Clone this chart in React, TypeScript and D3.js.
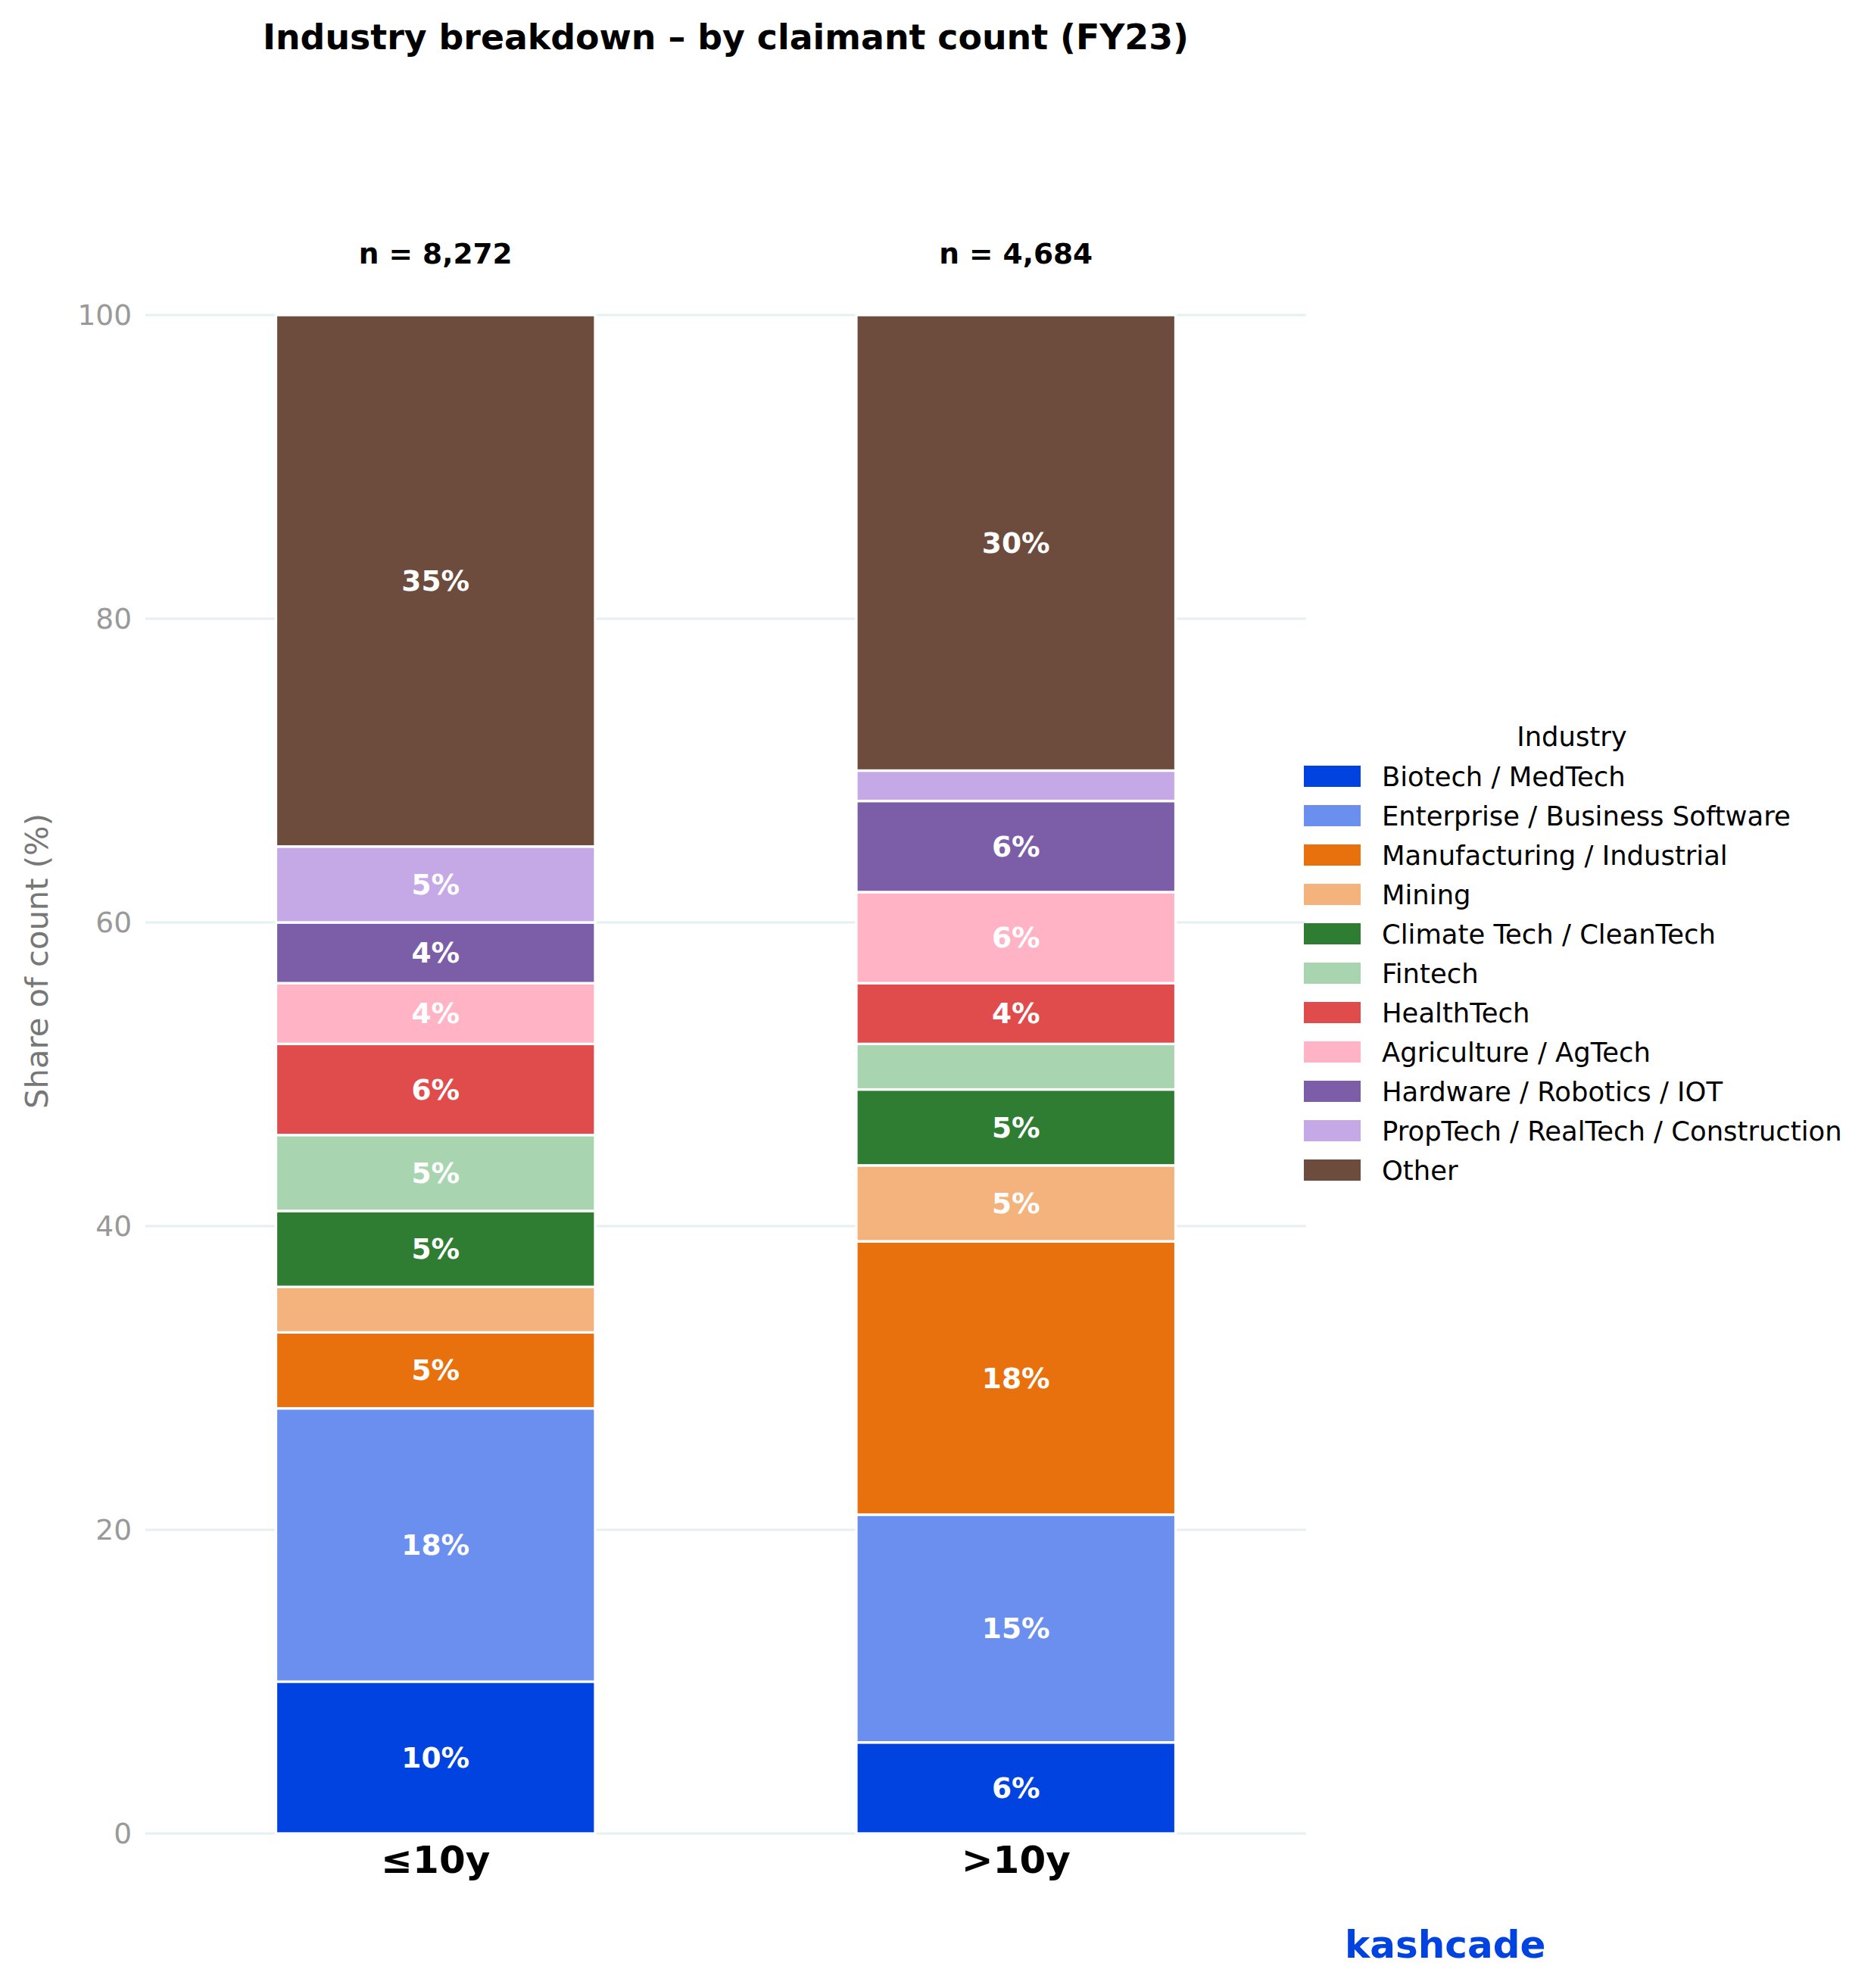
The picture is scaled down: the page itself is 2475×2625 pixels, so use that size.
import React from "react";
import * as d3 from "d3";

const groups = ["≤10y", ">10y"];
const nCounts = [8272, 4684];
const industries = [
  "Biotech / MedTech",
  "Enterprise / Business Software",
  "Manufacturing / Industrial",
  "Mining",
  "Climate Tech / CleanTech",
  "Fintech",
  "HealthTech",
  "Agriculture / AgTech",
  "Hardware / Robotics / IOT",
  "PropTech / RealTech / Construction",
  "Other",
];
const shareLE10 = [10, 18, 5, 3, 5, 5, 6, 4, 4, 5, 35];
const shareGT10 = [6, 15, 18, 5, 5, 3, 4, 6, 6, 2, 30];
const colors = [
  "#0043E0",
  "#6B8FEF",
  "#E8710E",
  "#F4B27C",
  "#2E7D32",
  "#A8D5B0",
  "#E04C4C",
  "#FFB3C4",
  "#7B5EA7",
  "#C5A8E6",
  "#6D4C3E",
];
const yTicks = [0, 20, 40, 60, 80, 100];

const W = 2475;
const H = 2625;
const FONT = "'DejaVu Sans', sans-serif";

export default function App() {
  const seriesValues = [shareLE10, shareGT10];
  const table = groups.map((g, gi) => {
    const row: Record<string, any> = { group: g, idx: gi };
    industries.forEach((ind, i) => (row[ind] = seriesValues[gi][i]));
    return row;
  });
  const stack = d3.stack<any>().keys(industries);
  const stacked = stack(table);

  const x = d3.scaleLinear().domain([-0.5, 1.5]).range([192, 1725]);
  const y = d3.scaleLinear().domain([0, 100]).range([2421, 416]);
  const barW = 0.55;
  const color = d3.scaleOrdinal<string, string>().domain(industries).range(colors);
  const fmt = d3.format(",");

  return (
    <svg
      width={W}
      height={H}
      viewBox={`0 0 ${W} ${H}`}
      style={{ position: "absolute", left: 0, top: 0, background: "#fff" }}
      fontFamily={FONT}
    >
      <rect x={0} y={0} width={W} height={H} fill="#fff" />
      {/* Title */}
      <text x={x(0.5)} y={65} textAnchor="middle" fontSize={45.8} fontWeight="bold" fill="#000">
        Industry breakdown – by claimant count (FY23)
      </text>

      {/* Gridlines */}
      {yTicks.map((t) => (
        <line key={"g" + t} x1={x(-0.5)} x2={x(1.5)} y1={y(t)} y2={y(t)} stroke="#E6EFF1" strokeWidth={3} />
      ))}
      {/* Y tick labels */}
      {yTicks.map((t) => (
        <text
          key={"t" + t}
          x={174}
          y={y(t)}
          textAnchor="end"
          dominantBaseline="central"
          fontSize={37.5}
          fill="#999999"
        >
          {t}
        </text>
      ))}
      {/* Y label */}
      <text
        transform={`translate(48, 1269) rotate(-90)`}
        textAnchor="middle"
        dominantBaseline="central"
        fontSize={41.7}
        fill="#777777"
      >
        Share of count (%)
      </text>

      {/* Bars */}
      {stacked.map((layer) => (
        <g key={layer.key} fill={color(layer.key)}>
          {layer.map((d, gi) => {
            const x0 = x(gi - barW / 2);
            const x1 = x(gi + barW / 2);
            const yTop = y(d[1]);
            const yBot = y(d[0]);
            return (
              <rect
                key={gi}
                x={x0}
                y={yTop}
                width={x1 - x0}
                height={yBot - yTop}
                stroke="#fff"
                strokeWidth={3.3}
              />
            );
          })}
        </g>
      ))}
      {/* Segment labels */}
      {stacked.map((layer) =>
        layer.map((d, gi) => {
          const v = d[1] - d[0];
          if (v < 3.5) return null;
          return (
            <text
              key={layer.key + gi}
              x={x(gi)}
              y={y((d[0] + d[1]) / 2)}
              textAnchor="middle"
              dominantBaseline="central"
              fontSize={37.5}
              fontWeight="bold"
              fill="#fff"
            >
              {d3.format(".0f")(v)}%
            </text>
          );
        })
      )}
      {/* n labels */}
      {groups.map((g, gi) => (
        <text key={"n" + g} x={x(gi)} y={348} textAnchor="middle" fontSize={37.5} fontWeight="bold" fill="#000">
          n = {fmt(nCounts[gi])}
        </text>
      ))}
      {/* X tick labels */}
      {groups.map((g, gi) => (
        <text key={"x" + g} x={x(gi)} y={2473} textAnchor="middle" fontSize={50} fontWeight="bold" fill="#000">
          {g}
        </text>
      ))}

      {/* Legend */}
      <text x={2076} y={985} textAnchor="middle" fontSize={35.4} fill="#000">
        Industry
      </text>
      {industries.map((ind, i) => {
        const cy = 1025 + i * 52;
        return (
          <g key={"l" + ind}>
            <rect x={1722} y={cy - 14} width={75} height={28} fill={color(ind)} />
            <text x={1825} y={cy + 13} fontSize={35.4} fill="#000">
              {ind}
            </text>
          </g>
        );
      })}

      {/* Brand */}
      <text x={1776} y={2585} fontSize={50} fontWeight="bold" fill="#0043E0">
        kashcade
      </text>
    </svg>
  );
}
